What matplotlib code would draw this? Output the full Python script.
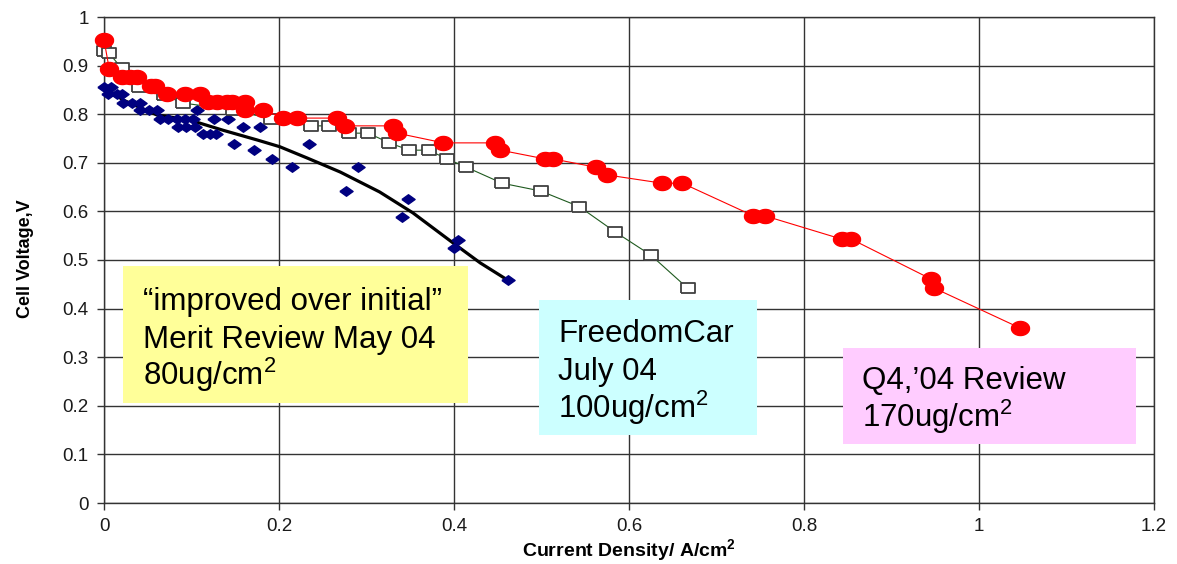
import numpy as np
import matplotlib
matplotlib.use('Agg')
import matplotlib.pyplot as plt
from matplotlib.path import Path
from matplotlib.patches import Rectangle

plt.rcParams['font.family'] = ['Liberation Sans', 'DejaVu Sans']
plt.rcParams['mathtext.fontset'] = 'custom'
plt.rcParams['mathtext.rm'] = 'Liberation Sans'
plt.rcParams['mathtext.bf'] = 'Liberation Sans:bold'
plt.rcParams['mathtext.default'] = 'regular'

# Q4 '04 review, 170ug/cm2 (red)
q4_x = [0.0, 0.006, 0.021, 0.030, 0.038, 0.054, 0.058, 0.072, 0.093, 0.110,
        0.119, 0.129, 0.141, 0.146, 0.161, 0.161, 0.182, 0.205, 0.221, 0.266,
        0.275, 0.330, 0.335, 0.388, 0.447, 0.453, 0.504, 0.513, 0.562, 0.575,
        0.638, 0.661, 0.742, 0.755, 0.843, 0.854, 0.945, 0.949, 1.047]
q4_y = [0.953, 0.893, 0.877, 0.877, 0.877, 0.858, 0.858, 0.842, 0.842, 0.842,
        0.825, 0.825, 0.825, 0.825, 0.825, 0.809, 0.809, 0.792, 0.792, 0.792,
        0.776, 0.776, 0.761, 0.741, 0.741, 0.726, 0.708, 0.708, 0.691, 0.675,
        0.658, 0.658, 0.591, 0.591, 0.543, 0.543, 0.461, 0.442, 0.360]

# FreedomCar July 04, 100ug/cm2 (open squares)
fc_x = [0.0, 0.006, 0.020, 0.040, 0.069, 0.090, 0.148, 0.191, 0.236, 0.257,
        0.280, 0.302, 0.326, 0.349, 0.371, 0.392, 0.414, 0.455, 0.499, 0.543,
        0.584, 0.625, 0.667]
fc_y = [0.930, 0.925, 0.895, 0.856, 0.839, 0.823, 0.809, 0.790, 0.776, 0.776,
        0.761, 0.761, 0.741, 0.726, 0.726, 0.708, 0.691, 0.658, 0.642, 0.610,
        0.558, 0.510, 0.442]

# Merit review May 04, 80ug/cm2 (navy diamonds)
mr_x = [0.000, 0.008, 0.005, 0.015, 0.021, 0.022, 0.032, 0.041, 0.041, 0.051,
        0.060, 0.064, 0.073, 0.083, 0.093, 0.102, 0.106, 0.085, 0.094, 0.104,
        0.113, 0.121, 0.128, 0.126, 0.142, 0.149, 0.159, 0.178, 0.171, 0.192,
        0.215, 0.234, 0.277, 0.290, 0.341, 0.348, 0.400, 0.405, 0.462]
mr_y = [0.856, 0.856, 0.842, 0.842, 0.842, 0.823, 0.823, 0.823, 0.809, 0.809,
        0.809, 0.790, 0.790, 0.790, 0.790, 0.790, 0.809, 0.774, 0.774, 0.774,
        0.759, 0.759, 0.759, 0.790, 0.790, 0.739, 0.774, 0.774, 0.726, 0.708,
        0.691, 0.739, 0.642, 0.691, 0.588, 0.625, 0.525, 0.541, 0.459]

# trend line through the merit review data
fit_x = [0.0, 0.022, 0.061, 0.098, 0.136, 0.175, 0.201, 0.232, 0.270, 0.315,
         0.353, 0.399, 0.430, 0.461]
fit_y = [0.856, 0.829, 0.798, 0.788, 0.767, 0.747, 0.733, 0.710, 0.681, 0.640,
         0.597, 0.535, 0.494, 0.459]

W, H = 1177, 564

# slightly flattened marker shapes
t = np.linspace(0, 2 * np.pi, 40)
ellipse = Path(np.column_stack([np.cos(t), 0.78 * np.sin(t)]))
diamond = Path([(-1, 0), (0, 0.72), (1, 0), (0, -0.72), (-1, 0)])
square = Path([(-1, -0.8), (1, -0.8), (1, 0.8), (-1, 0.8), (-1, -0.8)])

fig = plt.figure(figsize=(W / 100, H / 100), dpi=100)
ax = fig.add_axes([104 / W, 1 - 503 / H, (1154 - 104) / W, (503 - 17) / H])

ax.plot(fit_x, fit_y, color='black', lw=2.3, zorder=3)
ax.plot(mr_x, mr_y, ls='none', marker=diamond, ms=9.5, color='#000080',
        mec='#000080', zorder=4, clip_on=False)
ax.plot(fc_x, fc_y, color='#1f5a1f', lw=0.8, marker=square, ms=9.5,
        mfc='white', mec='#404040', mew=1.3, zorder=5, clip_on=False)
ax.plot(q4_x, q4_y, color='red', lw=0.8, marker=ellipse, ms=13,
        mfc='red', mec='red', zorder=6, clip_on=False)

ax.set_xlim(0, 1.2)
ax.set_ylim(0, 1)
ax.set_xticks(np.arange(0, 1.21, 0.2))
ax.set_yticks(np.arange(0, 1.01, 0.1))
ax.set_xticklabels(['0', '0.2', '0.4', '0.6', '0.8', '1', '1.2'])
ax.set_yticklabels(['0', '0.1', '0.2', '0.3', '0.4', '0.5', '0.6', '0.7',
                    '0.8', '0.9', '1'])
ax.grid(True, color='#333333', lw=1.0)
ax.set_axisbelow(True)
for s in ax.spines.values():
    s.set_color('#333333')
    s.set_linewidth(1.0)
ax.tick_params(direction='out', length=5, width=1, color='#333333',
               labelsize=13.5, labelcolor='#1a1a1a')
ax.tick_params(axis='x', pad=6)
ax.tick_params(axis='y', pad=6)

ax.set_xlabel(r'Current Density/ A/cm$^\mathbf{2}$', fontsize=14,
              fontweight='bold', labelpad=1)
fig.text(25 / W, 1 - 259 / H, 'Cell Voltage,V', rotation=90, fontsize=13,
         fontweight='bold', ha='center', va='center')


def fx(px):
    return px / W


def fy(py):
    return 1 - py / H


def box(x0, y0, x1, y1, color):
    r = Rectangle((fx(x0), fy(y1)), fx(x1) - fx(x0), fy(y0) - fy(y1),
                  transform=fig.transFigure, facecolor=color,
                  edgecolor='none', zorder=10)
    fig.add_artist(r)


def lines(x, baselines, texts):
    for b, s in zip(baselines, texts):
        fig.text(fx(x), fy(b), s, fontsize=22.5, ha='left', va='baseline',
                 zorder=11)


box(123, 266, 468, 403, '#ffff99')
lines(143, [310, 348, 385],
      ['\u201cimproved over initial\u201d', 'Merit Review May 04',
       '80ug/cm$^2$'])

box(539, 300, 757, 435, '#ccffff')
lines(558, [342, 380, 418], ['FreedomCar', 'July 04', '100ug/cm$^2$'])

box(843, 348, 1136, 444, '#ffccff')
lines(862, [389, 427], ['Q4,\u201904 Review', '170ug/cm$^2$'])

fig.savefig('out.png', dpi=100)
